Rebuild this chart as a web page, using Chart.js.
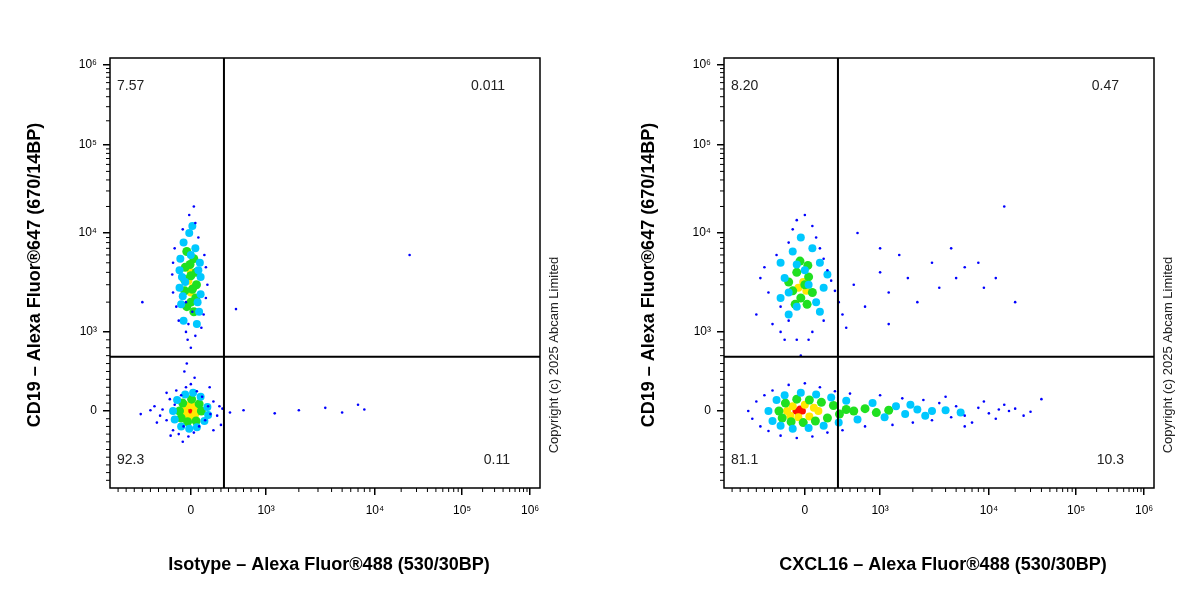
<!DOCTYPE html>
<html>
<head>
<meta charset="utf-8">
<script src="https://cdn.jsdelivr.net/npm/chart.js@4/dist/chart.umd.min.js"></script>
<style>
  body { margin: 0; background: #fff; }
  .wrap { position: absolute; top: 0; width: 600px; height: 600px; }
</style>
</head>
<body>
<div class="wrap" style="left:0"><canvas id="left"></canvas></div>
<div class="wrap" style="left:614px"><canvas id="right"></canvas></div>
<script>
// axis ticks
const tickValues = [0, 1e3, 1e4, 1e5, 1e6];
const tickLabels = ['0', '10\u00b3', '10\u2074', '10\u2075', '10\u2076'];
const gateX = 440, gateY = 685;

// left panel (isotype)
const leftQuad = ['7.57', '0.011', '92.3', '0.11'];
const leftBlue = [[-350,20],[-300,-120],[-260,150],[-220,-250],[-200,80],[-180,260],[-150,-300],[-120,200],[-90,-200],[-60,300],[-30,-330],[0,340],[40,-280],[80,250],[110,-200],[150,180],[190,-120],[230,60],[260,-40],[300,120],[350,-60],[420,30],[520,-20],[700,10],[1200,-30],[2000,10],[3500,40],[5000,-20],[7000,80],[8000,20],[-100,-400],[50,420],[-50,600],[0,800],[-80,500],[-500,10],[-620,-40],[-450,60],[-30,1200],[20,1600],[-60,2000],[40,20000],[-20,16000],[60,13000],[-100,11000],[100,9000],[-200,7000],[180,6000],[-220,5000],[200,4500],[-230,3800],[220,3000],[-220,2500],[200,2200],[-180,1800],[170,1500],[-150,1300],[140,1100],[-60,1000],[60,950],[-40,900],[25000,6000],[-600,2000],[600,1700],[-420,-150],[400,-180],[-250,-320],[250,300],[-300,230],[300,-250],[-380,-60],[380,60]];
const leftCyan = [[-220,0],[-200,-110],[-170,140],[-120,-200],[-70,210],[-20,-230],[30,230],[80,-210],[130,180],[180,-130],[220,50],[230,-50],[-90,8000],[60,7000],[-130,5500],[120,5000],[-140,4200],[130,3600],[-140,2800],[130,2400],[-120,1900],[110,1600],[-90,1300],[80,1200],[-20,10000],[20,12000],[0,6000],[-70,3200],[90,2000],[-100,2300],[100,4200],[-110,3600]];
const leftGreen = [[-140,0],[-120,-90],[-100,100],[-40,-140],[10,150],[70,-130],[110,90],[140,0],[-50,6500],[40,5500],[-70,4500],[70,4000],[-80,3400],[75,3000],[-75,2600],[65,2200],[-50,1800],[40,1600],[0,3700],[0,2000],[-10,4800],[20,2700]];
const leftYellow = [[-80,0],[-60,-60],[-40,70],[10,-80],[30,70],[70,20],[60,-40],[-30,3300],[30,2800],[0,2500],[0,4000]];
const leftRed = [[-20,0],[0,-15],[15,10]];

// right panel (CXCL16)
const rightQuad = ['8.20', '0.47', '81.1', '10.3'];
const rightBlue = [[-700,0],[-650,-100],[-600,120],[-550,-200],[-500,200],[-450,-260],[-400,260],[-300,-320],[-200,330],[-100,-350],[0,350],[100,-330],[200,300],[300,-280],[400,250],[500,-250],[600,220],[800,-200],[1000,200],[1300,-180],[1600,160],[2000,-150],[2500,140],[3000,-120],[3500,100],[4500,-80],[5000,60],[6000,-60],[8000,40],[10000,-30],[13000,20],[17000,0],[20000,30],[30000,-10],[40000,150],[-50,700],[50,900],[-600,1500],[-550,3500],[-500,4500],[-450,2500],[-400,1200],[-350,6000],[-300,1800],[-250,900],[-200,8000],[-150,11000],[-100,14000],[0,16000],[100,12000],[150,9000],[200,7000],[250,5500],[300,4200],[350,3300],[400,2600],[450,2000],[500,1500],[550,1100],[650,3000],[800,1800],[1000,4000],[1200,2500],[1500,6000],[1800,3500],[2200,2000],[3000,5000],[3500,2800],[4500,7000],[5000,3500],[6000,4500],[8000,5000],[9000,2800],[12000,3500],[20000,2000],[15000,20000],[700,10000],[1000,7000],[-300,1000],[-200,1300],[250,1300],[-100,900],[100,1000],[1200,1200],[7000,-150],[9000,120],[12000,-100],[15000,80],[25000,-60],[4000,180],[6000,-200]];
const rightCyan = [[-450,0],[-400,-130],[-350,140],[-300,-190],[-250,200],[-150,-230],[-50,230],[50,-220],[150,210],[250,-190],[350,170],[450,-150],[550,130],[700,-110],[900,100],[1100,-80],[1400,60],[1700,-40],[2200,20],[3000,0],[2600,-60],[1900,80],[4000,10],[5500,-20],[-300,5000],[-250,3500],[-200,2500],[-150,6500],[-100,1800],[-50,9000],[0,4200],[50,3000],[100,7000],[150,2000],[200,5000],[250,2800],[-300,2200],[300,3800],[200,1600],[-200,1500],[-100,4800]];
const rightGreen = [[-320,0],[-280,-90],[-240,100],[-170,-140],[-100,150],[-20,-150],[60,140],[140,-130],[220,110],[300,-90],[380,70],[460,-40],[550,20],[650,0],[800,30],[950,-20],[1200,10],[-200,3200],[-150,2600],[-100,4000],[-50,2200],[0,3000],[50,3600],[100,2500],[-120,1900],[30,1900],[-60,5200],[40,4700]];
const rightYellow = [[-220,0],[-180,-60],[-150,60],[-80,-80],[0,80],[60,-70],[120,40],[180,0],[-80,2800],[-20,3200],[20,2600]];
const rightRed = [[-110,0],[-80,-25],[-60,25],[-30,0]];

// biexponential-like scale: anchors are chart-area fractions of 0, 10^3..10^6
function makeTransform(d) {
  return function (v) {
    if (v <= 0) return Math.max(0, d[0] * (1 + v / 1000));
    if (v < 1000) return d[0] + (d[1] - d[0]) * v / 1000;
    const lg = Math.log10(v);
    const i = Math.min(2, Math.floor(lg) - 3);
    return d[i + 1] + (d[i + 2] - d[i + 1]) * (lg - (i + 3));
  };
}

class BiexScale extends Chart.LinearScale {
  buildTicks() { return tickValues.map(v => ({ value: v })); }
  configure() {
    super.configure();
    this._tf = makeTransform(this.options.anchors);
  }
  getPixelForValue(v) { return this.getPixelForDecimal(this._tf(v)); }
  getValueForPixel() { return 0; }
}
BiexScale.id = 'biex';
BiexScale.defaults = Chart.LinearScale.defaults;
Chart.register(BiexScale);

const xAnchors = [0.188, 0.363, 0.616, 0.819, 0.977];
const yAnchors = [0.179, 0.363, 0.593, 0.798, 0.984];

function ds(pts, color, r) {
  return { data: pts.map(p => ({ x: p[0], y: p[1] })), backgroundColor: color, borderWidth: 0, pointRadius: r };
}

function minorValues() {
  const out = [];
  for (let k = 1; k <= 9; k++) { out.push(-k * 100); out.push(k * 100); }
  for (let e = 3; e < 6; e++) for (let k = 2; k <= 9; k++) out.push(k * Math.pow(10, e));
  return out;
}

const overlay = {
  id: 'overlay',
  afterDatasetsDraw(chart, args, opts) {
    const { ctx, chartArea: a, scales: { x, y } } = chart;
    ctx.save();
    // gates
    ctx.strokeStyle = '#000'; ctx.lineWidth = 2;
    const gx = x.getPixelForValue(gateX), gy = y.getPixelForValue(gateY);
    ctx.beginPath();
    ctx.moveTo(gx, a.top); ctx.lineTo(gx, a.bottom);
    ctx.moveTo(a.left, gy); ctx.lineTo(a.right, gy);
    ctx.stroke();
    // frame
    ctx.lineWidth = 1.5;
    ctx.strokeRect(a.left, a.top, a.right - a.left, a.bottom - a.top);
    // minor ticks
    ctx.lineWidth = 1;
    ctx.beginPath();
    minorValues().forEach(v => {
      const px = x.getPixelForValue(v), py = y.getPixelForValue(v);
      if (px >= a.left) { ctx.moveTo(px, a.bottom); ctx.lineTo(px, a.bottom + 4); }
      if (py <= a.bottom) { ctx.moveTo(a.left, py); ctx.lineTo(a.left - 4, py); }
    });
    ctx.stroke();
    // quadrant numbers
    ctx.fillStyle = '#222'; ctx.font = '14px Arial, "Liberation Sans"';
    ctx.textBaseline = 'middle';
    ctx.textAlign = 'left';
    ctx.fillText(opts.quad[0], a.left + 7, a.top + 28);
    ctx.fillText(opts.quad[2], a.left + 7, a.bottom - 28);
    ctx.textAlign = 'right';
    ctx.fillText(opts.quad[1], a.right - 35, a.top + 28);
    ctx.fillText(opts.quad[3], a.right - 30, a.bottom - 28);
    // titles
    ctx.fillStyle = '#000';
    ctx.font = 'bold 18px Arial, "Liberation Sans"';
    ctx.textAlign = 'center';
    ctx.fillText(opts.xTitle, (a.left + a.right) / 2 + 4, 565);
    ctx.save();
    ctx.translate(35, (a.top + a.bottom) / 2 + 2);
    ctx.rotate(-Math.PI / 2);
    ctx.fillText('CD19 \u2013 Alexa Fluor\u00ae647 (670/14BP)', 0, 0);
    ctx.restore();
    ctx.save();
    ctx.translate(a.right + 14, 355);
    ctx.rotate(-Math.PI / 2);
    ctx.font = '13px Arial, "Liberation Sans"';
    ctx.fillStyle = '#222';
    ctx.fillText('Copyright (c) 2025 Abcam Limited', 0, 0);
    ctx.restore();
    ctx.restore();
  }
};

function makeChart(id, sets, quad, xTitle) {
  new Chart(document.getElementById(id), {
    type: 'scatter',
    data: { datasets: [
      ds(sets[0], '#0000ff', 1.3),
      ds(sets[1], '#00c8ff', 4),
      ds(sets[2], '#20e020', 4.5),
      ds(sets[3], '#ffe800', 4),
      ds(sets[4], '#ff1000', 3.5)
    ] },
    options: {
      responsive: false, animation: false, events: [],
      layout: { padding: { left: 70, top: 58, right: 60, bottom: 82 } },
      plugins: { legend: { display: false }, tooltip: { enabled: false }, overlay: { quad: quad, xTitle: xTitle } },
      scales: {
        x: {
          type: 'biex', anchors: xAnchors, min: -1000, max: 1e6,
          grid: { drawOnChartArea: false, tickLength: 7, color: '#000', lineWidth: 1.5 },
          border: { display: false },
          ticks: { autoSkip: false, maxRotation: 0, padding: 8, color: '#000', font: { size: 12, family: 'Arial' }, callback: (v, i) => tickLabels[i] },
          afterFit: s => { s.height = 30; }
        },
        y: {
          type: 'biex', anchors: yAnchors, min: -1000, max: 1e6,
          grid: { drawOnChartArea: false, tickLength: 7, color: '#000', lineWidth: 1.5 },
          border: { display: false },
          ticks: { autoSkip: false, padding: 6, color: '#000', font: { size: 12, family: 'Arial' }, callback: (v, i) => tickLabels[i] },
          afterFit: s => { s.width = 40; }
        }
      }
    },
    plugins: [overlay]
  });
}

document.getElementById('left').width = 600; document.getElementById('left').height = 600;
document.getElementById('right').width = 600; document.getElementById('right').height = 600;
makeChart('left', [leftBlue, leftCyan, leftGreen, leftYellow, leftRed], leftQuad, 'Isotype \u2013 Alexa Fluor\u00ae488 (530/30BP)');
makeChart('right', [rightBlue, rightCyan, rightGreen, rightYellow, rightRed], rightQuad, 'CXCL16 \u2013 Alexa Fluor\u00ae488 (530/30BP)');
</script>
</body>
</html>
